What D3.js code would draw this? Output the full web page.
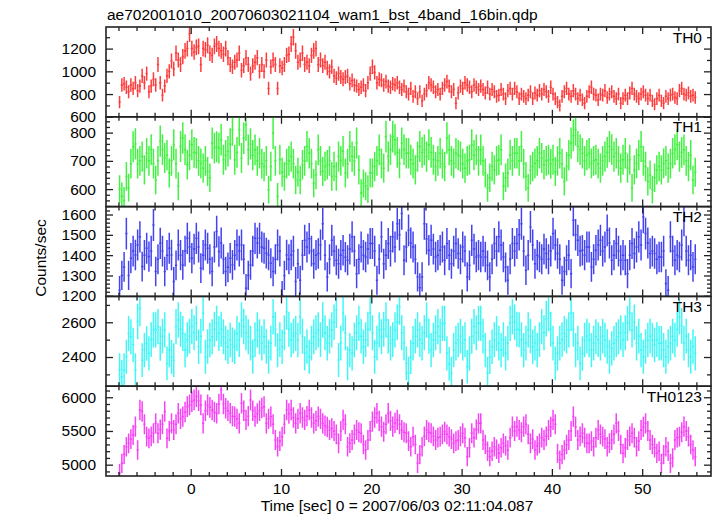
<!DOCTYPE html>
<html><head><meta charset="utf-8">
<script src="https://cdn.jsdelivr.net/npm/d3@7"></script>
<style>
body{margin:0;background:#fff}
svg text{font-family:"Liberation Sans",Arial,Helvetica,sans-serif;font-size:15.5px;fill:#000}
</style></head><body>
<svg id="c" width="717" height="516"></svg>
<script>
const title = "ae702001010_20070603021104_wam1_bst_4band_16bin.qdp";
const xLabel = "Time [sec] 0 = 2007/06/03 02:11:04.087";
const yLabel = "Counts/sec";
const binWidth = 0.25;
const tStart = -8;
const xTicks = [0, 10, 20, 30, 40, 50];
const seriesNames = ["TH0", "TH1", "TH2", "TH3", "TH0123"];

const th0 = [
730,880,890,860,820,880,850,900,830,870,960,900,980,820,870,930,
880,1060,900,790,870,960,1000,1090,1020,1160,1100,1060,1130,1180,1200,1330,
1200,1170,1210,1220,1060,1200,1190,1230,1160,1140,1220,1240,1200,1180,1150,1200,
1120,1060,1040,1080,1100,1160,1010,1050,1120,1060,980,1050,1080,1120,1000,1060,
1000,1100,850,1040,1100,1060,850,1050,1030,1060,1140,1150,1240,1300,1180,1080,
1100,1160,1060,1080,1050,1140,1180,1200,1060,1100,1050,1080,1030,1000,1040,960,
940,980,950,930,950,960,890,920,880,870,840,860,880,830,900,980,
1040,990,900,930,920,880,910,870,860,890,880,900,860,840,870,820,
800,850,780,820,760,820,740,800,830,900,880,860,820,840,800,850,
880,910,870,820,840,720,810,870,850,900,880,860,820,880,860,840,
870,840,810,860,800,840,820,780,790,840,800,760,830,850,800,850,
820,760,800,780,760,790,820,760,810,790,830,800,840,820,780,860,
800,760,730,700,780,820,850,800,780,830,800,760,790,750,720,780,
820,860,800,790,750,800,790,830,770,800,820,780,760,800,720,760,
790,760,810,850,800,780,760,800,820,790,760,790,740,710,760,790,
740,720,780,760,790,800,770,760,830,850,800,790,810,780,790,770];

const th1 = [
600,575,560,645,605,690,750,760,690,700,715,668,727,700,740,690,
632,700,770,740,710,720,657,700,757,690,610,751,781,740,686,720,
757,730,727,700,691,674,700,662,640,763,745,750,745,775,704,720,
734,760,810,704,730,810,710,780,828,739,760,720,739,700,727,690,
680,700,598,680,798,700,574,704,660,645,690,700,715,690,632,660,
632,686,700,751,727,690,621,650,739,700,662,680,686,700,645,680,
645,715,700,734,657,690,751,715,700,763,668,586,620,610,600,657,
657,680,700,739,691,674,786,715,740,786,775,730,691,763,740,727,
727,704,690,668,715,751,730,739,715,757,730,704,680,700,727,690,
680,781,739,700,691,727,720,715,690,674,700,704,757,720,739,700,
739,700,657,604,640,680,668,700,703,739,610,640,657,721,700,727,
727,700,751,690,645,604,668,680,691,700,727,710,686,700,704,690,
704,662,700,727,690,627,680,720,763,790,810,751,740,727,700,720,
727,691,700,704,690,674,700,715,730,751,740,715,727,700,674,704,
727,674,704,604,668,691,720,751,700,680,627,650,598,640,668,680,
668,691,700,674,690,727,740,757,715,730,739,700,680,720,632,660];

const th2 = [
1227,1300,1342,1506,1300,1385,1420,1401,1450,1490,1344,1400,1434,1393,1420,1548,
1319,1380,1458,1420,1319,1400,1434,1401,1270,1350,1450,1400,1352,1420,1483,1440,
1385,1430,1483,1440,1336,1400,1450,1434,1380,1319,1440,1516,1418,1460,1380,1319,
1340,1385,1352,1400,1450,1420,1450,1380,1237,1300,1352,1420,1483,1460,1483,1440,
1434,1410,1401,1360,1319,1380,1450,1420,1204,1300,1401,1380,1401,1420,1270,1358,
1276,1400,1473,1440,1481,1420,1358,1400,1408,1450,1555,1400,1293,1380,1473,1420,
1375,1358,1400,1424,1390,1375,1430,1490,1420,1309,1380,1440,1400,1391,1430,1457,
1457,1420,1276,1380,1490,1358,1400,1457,1420,1490,1440,1555,1500,1605,1375,1440,
1522,1460,1440,1380,1293,1240,1293,1555,1480,1424,1473,1430,1391,1400,1424,1440,
1375,1457,1400,1358,1420,1457,1408,1380,1440,1420,1293,1350,1473,1430,1391,1400,
1391,1420,1391,1350,1293,1380,1457,1420,1490,1450,1391,1340,1276,1380,1457,1420,
1457,1500,1555,1420,1326,1400,1539,1450,1358,1400,1391,1380,1430,1408,1380,1420,
1506,1450,1408,1380,1276,1320,1375,1400,1309,1572,1500,1473,1420,1424,1400,1440,
1440,1342,1380,1424,1450,1473,1420,1440,1522,1460,1375,1400,1457,1420,1375,1400,
1375,1309,1400,1457,1408,1440,1490,1450,1588,1506,1460,1408,1420,1408,1380,1391,
1391,1420,1260,1227,1490,1420,1375,1400,1391,1450,1572,1420,1375,1400,1342,1380];

const th3 = [
2325,2287,2325,2402,2536,2517,2469,2325,2604,2680,2382,2440,2478,2421,2500,2556,
2556,2575,2478,2520,2556,2363,2440,2400,2382,2575,2613,2560,2536,2440,2500,2520,
2575,2540,2594,2459,2520,2652,2402,2460,2498,2517,2560,2594,2536,2560,2517,2480,
2459,2498,2470,2459,2536,2500,2613,2575,2540,2517,2480,2402,2500,2556,2517,2480,
2517,2460,2402,2480,2632,2560,2440,2500,2459,2540,2661,2560,2498,2520,2536,2498,
2632,2520,2421,2460,2402,2480,2517,2540,2556,2500,2613,2540,2479,2520,2556,2600,
2671,2383,2480,2652,2540,2364,2440,2421,2498,2540,2594,2520,2459,2500,2560,2652,
2540,2402,2480,2556,2517,2560,2613,2520,2479,2500,2556,2600,2690,2540,2480,2364,
2306,2400,2479,2520,2556,2500,2479,2540,2613,2520,2440,2498,2540,2575,2520,2594,
2594,2421,2360,2306,2440,2480,2498,2520,2479,2500,2344,2420,2520,2575,2540,2594,
2594,2520,2440,2306,2400,2459,2500,2536,2480,2440,2500,2421,2480,2594,2632,2600,
2560,2556,2500,2440,2480,2556,2520,2459,2480,2440,2500,2575,2540,2620,2652,2560,
2480,2364,2421,2479,2500,2536,2520,2556,2652,2560,2440,2480,2364,2420,2498,2520,
2498,2440,2480,2517,2500,2479,2520,2498,2460,2402,2450,2479,2500,2517,2540,2500,
2540,2594,2652,2556,2600,2479,2520,2440,2402,2460,2498,2520,2498,2470,2500,2479,
2479,2440,2402,2460,2479,2520,2498,2560,2632,2580,2479,2520,2440,2402,2460,2421];

const th0123 = [
4871,5020,5150,5267,5317,5380,5440,5564,5218,5812,5787,5600,5416,5391,5420,5465,
5614,5465,5520,5600,5787,5391,5500,5614,5515,5600,5762,5680,5713,5780,5861,5886,
5936,5960,6010,5950,5886,5614,5800,5886,5850,5812,5780,5762,5900,6109,5900,5837,
5800,5762,5720,5713,5680,5614,5911,5800,5663,5720,5960,5800,5713,5760,5800,5840,
5861,5614,5680,5713,5600,5366,5267,5350,5416,5600,5812,5760,5812,5700,5614,5680,
5762,5700,5663,5720,5812,5700,5614,5650,5713,5680,5614,5580,5560,5515,5540,5500,
5450,5317,5500,5663,5600,5267,5320,5366,5450,5515,5480,5465,5300,5218,5366,5500,
5639,5700,5762,5650,5564,5490,5600,5762,5650,5564,5620,5663,5600,5515,5480,5465,
5350,5267,5416,5300,5020,5150,5267,5420,5515,5480,5465,5420,5366,5400,5416,5450,
5490,5450,5416,5380,5317,5350,5366,5420,5465,5400,5119,5250,5465,5400,5520,5614,
5614,5366,5300,5200,5119,5200,5267,5230,5168,5250,5317,5280,5218,5400,5564,5500,
5564,5515,5480,5564,5600,5450,5317,5380,5218,5280,5317,5400,5366,5420,5515,5560,
5663,5600,5168,5069,5150,5218,5300,5366,5500,5713,5560,5366,5420,5465,5400,5317,
5317,5350,5267,5400,5515,5450,5416,5380,5267,5320,5366,5450,5614,5500,5300,5168,
5250,5366,5420,5465,5400,5267,5350,5515,5560,5614,5500,5366,5300,5250,5168,5200,
5020,5150,5267,5200,5020,5100,5366,5400,5416,5480,5564,5500,5416,5300,5218,5119];

const th0Ticks = [600, 800, 1000, 1200];
const th1Ticks = [600, 700, 800];
const th2Ticks = [1200, 1300, 1400, 1500, 1600];
const th3Ticks = [2400, 2600];
const th0123Ticks = [5000, 5500, 6000];

const panels = [
  {name: seriesNames[0], values: th0, ticks: th0Ticks, color: "#ff1a1a", domain: [600, 1390], minorStep: 100},
  {name: seriesNames[1], values: th1, ticks: th1Ticks, color: "#22ee22", domain: [538, 856], minorStep: 20},
  {name: seriesNames[2], values: th2, ticks: th2Ticks, color: "#2222ee", domain: [1197, 1639], minorStep: 20},
  {name: seriesNames[3], values: th3, ticks: th3Ticks, color: "#22f4f4", domain: [2232, 2749], minorStep: 100},
  {name: seriesNames[4], values: th0123, ticks: th0123Ticks, color: "#f422f4", domain: [4832, 6164], minorStep: 100}
];

(function draw() {
  const svg = d3.select("#c");
  const pLeft = 106, pRight = 711, pTop = 27, pBottom = 476;
  const ph = (pBottom - pTop) / panels.length;
  const x = d3.scaleLinear().domain([-9.38, 57.62]).range([pLeft, pRight]);
  const xMinor = d3.range(-8, 57, 2).filter(v => !xTicks.includes(v));

  svg.append("text").attr("x", 107).attr("y", 20).text(title);

  const strip = sel => {
    sel.select(".domain").remove();
    sel.selectAll("line").attr("stroke", "#222").attr("stroke-width", 1.3);
    sel.attr("font-size", null).attr("font-family", null);
  };

  panels.forEach((p, i) => {
    const y0 = pTop + i * ph, y1 = y0 + ph;
    const y = d3.scaleLinear().domain(p.domain).range([y1, y0]);
    const clipId = "clip" + i;
    svg.append("clipPath").attr("id", clipId).append("rect")
      .attr("x", pLeft).attr("y", y0).attr("width", pRight - pLeft).attr("height", ph);

    const times = p.values.map((_, k) => tStart + (k + 0.5) * binWidth);
    const d = p.values.map((v, k) => {
      const t = times[k], e = Math.sqrt(v / binWidth);
      return `M${x(t - binWidth / 2)},${y(v)}H${x(t + binWidth / 2)}M${x(t)},${y(v - e)}V${y(v + e)}`;
    }).join("");
    svg.append("path").attr("clip-path", `url(#${clipId})`).attr("d", d)
      .attr("fill", "none").attr("stroke", p.color).attr("stroke-width", 1.5).attr("stroke-opacity", 0.85);

    const [lo, hi] = p.domain;
    const minors = d3.range(Math.ceil(lo / p.minorStep) * p.minorStep, hi, p.minorStep)
      .filter(v => !p.ticks.includes(v));

    svg.append("g").attr("transform", `translate(${pLeft},0)`)
      .call(d3.axisLeft(y).tickValues(p.ticks).tickSize(-7).tickPadding(10).tickFormat(d3.format("d"))).call(strip);
    svg.append("g").attr("transform", `translate(${pLeft},0)`)
      .call(d3.axisLeft(y).tickValues(minors).tickSize(-4).tickFormat("")).call(strip);
    svg.append("g").attr("transform", `translate(${pRight},0)`)
      .call(d3.axisRight(y).tickValues(p.ticks).tickSize(-7).tickFormat("")).call(strip);
    svg.append("g").attr("transform", `translate(${pRight},0)`)
      .call(d3.axisRight(y).tickValues(minors).tickSize(-4).tickFormat("")).call(strip);

    const isLast = i === panels.length - 1;
    svg.append("g").attr("transform", `translate(0,${y1})`)
      .call(d3.axisBottom(x).tickValues(xTicks).tickSize(-7).tickPadding(7).tickFormat(isLast ? d3.format("d") : "")).call(strip);
    svg.append("g").attr("transform", `translate(0,${y1})`)
      .call(d3.axisBottom(x).tickValues(xMinor).tickSize(-4).tickFormat("")).call(strip);
    svg.append("g").attr("transform", `translate(0,${y0})`)
      .call(d3.axisTop(x).tickValues(xTicks).tickSize(-7).tickFormat("")).call(strip);
    svg.append("g").attr("transform", `translate(0,${y0})`)
      .call(d3.axisTop(x).tickValues(xMinor).tickSize(-4).tickFormat("")).call(strip);

    svg.append("rect").attr("x", pLeft).attr("y", y0).attr("width", pRight - pLeft).attr("height", ph)
      .attr("fill", "none").attr("stroke", "#222").attr("stroke-width", 1.6);

    svg.append("text").attr("x", 702).attr("y", y0 + 15.5).attr("text-anchor", "end").text(p.name);
  });

  svg.append("text").attr("x", 397).attr("y", 511).attr("text-anchor", "middle").text(xLabel);
  svg.append("text").attr("transform", "translate(46,258) rotate(-90)").attr("text-anchor", "middle").text(yLabel);
})();
</script>
</body></html>
